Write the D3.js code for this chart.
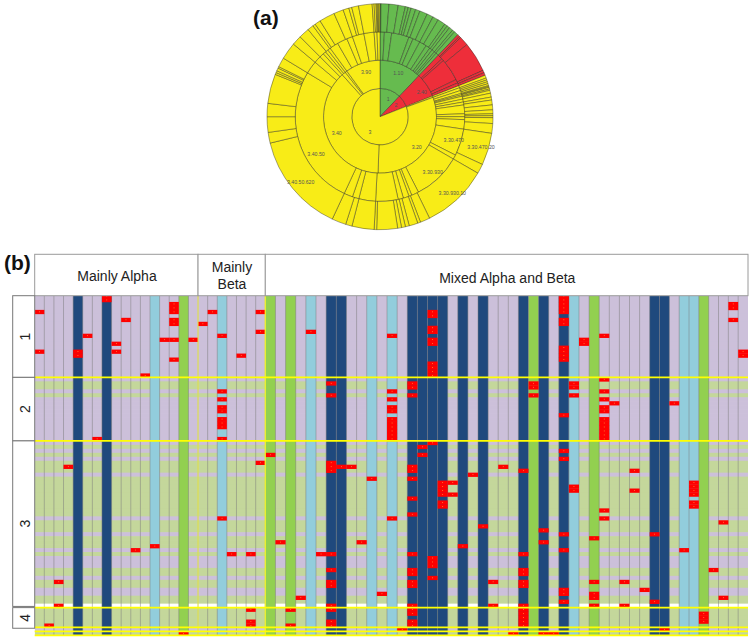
<!DOCTYPE html>
<html lang="en">

<head>
    <meta charset="UTF-8">
    <title>Domain map</title>
    <script src="https://d3js.org/d3.v7.min.js"></script>
    <style>
        html, body { margin: 0; padding: 0; background: #fff; }
        svg { display: block; }
        text { font-family: "Liberation Sans", Arial, sans-serif; }
    </style>
</head>

<body>
    <svg id="chart" width="751" height="639"></svg>

    <script>
        // (a) sunburst: top level classes, as [name, start angle, end angle] in degrees
        const classes = [["1", 0, 43.5], ["2", 43.5, 68.5], ["3", 68.5, 360]];

        // cut angles of each ring
        const ring1Cuts = [0, 43.5, 68.5, 360];
        const ring2Cuts = [0, 43.5, 68.5, 70, 182, 318, 322, 324, 360];
        const ring3Cuts = [0, 3, 8, 20, 23, 28, 33, 36, 38, 40, 41.5, 43.5, 47, 48.5, 64, 66.5, 68.5,
            70, 72, 74, 75, 76, 78, 80, 82, 88, 90, 92, 98.5, 117, 120, 153, 158, 160, 164, 167.6, 183,
            194.5, 199, 205, 301.2, 310, 315, 318, 320, 322, 324, 330, 337, 341, 349, 356, 358, 360];
        const ring4Cuts = [0, 0.5, 4.6, 9.3, 13, 14.5, 16, 18.4, 20.7, 24.7, 28, 31, 35, 36.5, 38, 40, 41.3, 43.5,
            44.7, 45.5, 50.3, 65.8, 67.1, 68.5,
            70, 71, 72, 73, 74, 74.5, 75, 75.8, 76.5, 78, 80, 81.5, 84, 86.5, 88.5, 89.5, 90.5, 93.5, 98.5,
            115, 120, 154, 159, 160.5, 165, 167, 169, 171, 181.7, 183, 194.4, 197.7, 205, 256.5, 262, 270,
            276.8, 292, 293, 294, 295.5, 296.3, 301.2, 310, 315, 320.5, 323.6, 325, 328, 336, 341, 344,
            345.5, 349, 356, 357, 358, 358.5, 359, 359.5, 360];
        const rings = [ring1Cuts, ring2Cuts, ring3Cuts, ring4Cuts];
        const ringLabels = [
            ["1", 388.3, 99.3], ["2", 396, 106], ["3", 370, 132.7], ["1.10", 398.3, 73.3],
            ["2.40", 421.7, 92.7], ["3.90", 366, 72.3], ["3.40", 336.7, 133.3], ["3.20", 416.7, 147.3],
            ["3.40.50", 316, 155], ["3.40.50.620", 300.7, 182.3], ["3.30.470", 453.7, 141],
            ["3.30.470.20", 481, 147.7], ["3.30.930", 432.7, 172.7], ["3.30.930.10", 452.3, 193.7]
        ];

        // (b) grid: column kinds, row shades and hit cells
        const columnKinds = ("LLLLDLLDLLLLCLLGLLLCLLLL" + "GLGLCLDDLLCLCL" + "DDDDLDLD" + "LLLDGDLDCLG" +
            "LLLLL" + "DD" + "L" + "CC" + "G" + "LLLL").split("");
        const rowShades = ("pppppppppppppppppppppp" + "gg" + "p" + "g" + "pppppppppppp" + "g" + "p" + "g" + "p" +
            "ggg" + "p" + "gggggggggg" + "p" + "ggg" + "p" + "ggg" + "p" + "g" + "ppp" + "gg" + "p" + "gg" +
            "pp" + "gg" + "w" + "ggggg" + "p" + "g").split("");
        const hits = [
            [0, [4, 14]], [1, [83]], [2, [72, 78]], [3, [43]], [4, [14, 15]], [5, [10]], [6, [36]], [7, [0, 1]],
            [8, [12, 14]], [9, [6]], [10, [64]], [11, [20]], [12, [63]], [13, [11]], [14, [2, 3, 4, 6, 7, 11, 16]],
            [15, [85]], [16, [11]], [17, [7]], [18, [4]], [19, [10, 24, 26, 28, 29, 31, 32, 33, 36, 56]], [20, [65]],
            [21, [15]], [22, [65, 79, 82, 83]], [23, [4, 9, 42]], [24, [40]], [25, [62]], [26, [79, 83]], [27, [76]],
            [28, [9]], [29, [65]], [30, [22, 25, 42, 43, 44, 65, 69, 72, 73, 78, 79, 82, 83]], [31, [43]], [32, [43]],
            [33, [62]], [34, [46]], [35, [75]], [36, [10, 24, 26, 28, 29, 31, 32, 33, 34, 35, 36, 56]], [37, [84]],
            [38, [22, 23, 25, 43, 44, 46, 51, 55, 65, 69, 70, 72, 73, 78, 79, 80, 82, 83]], [39, [38, 40]],
            [40, [4, 5, 8, 9, 11, 12, 17, 18, 19, 20, 37, 66, 67, 68, 71]], [41, [47, 48, 49, 50, 52, 53]], [42, [47, 50]],
            [43, [63]], [44, [45]], [45, [58]], [46, [72, 78]], [47, [43]], [48, [85]],
            [49, [44, 65, 69, 70, 72, 73, 78, 79, 80, 81, 82, 83]], [50, [22, 23, 25]], [51, [59, 62, 85]], [52, [85]],
            [53, [0, 1, 2, 3, 4, 6, 7, 13, 14, 15, 16, 30, 39, 41, 60, 64, 74, 75, 77]], [54, [22, 23, 25, 48, 49]],
            [55, [11, 12]], [56, [61, 72, 75, 76, 78]], [57, [10, 21, 24, 26, 28, 29, 31, 32, 33, 34, 35, 36, 54, 56]],
            [58, [27]], [59, [72, 78]], [60, [44, 49]], [61, [74]], [62, [60, 77]], [63, [84]], [64, [27]], [65, [64]],
            [66, [47, 48, 49, 50, 52, 53]], [67, [80, 81, 82]], [68, [69]], [69, [57, 76]], [70, [2, 3, 6]], [71, [14, 15]]
        ];
        const rowBreaks = [21, 37, 79, 84, 85, 86];
        const headers = [["Mainly Alpha", 0, 17], ["Mainly Beta", 17, 24], ["Mixed Alpha and Beta", 24, 72]];
        const groupLabels = [["1", 21, 0], ["2", 37, 21], ["3", 78.7, 37], ["4", 84.2, 79]];

        const kindColor = { D: "#1f497d", C: "#92cddc", G: "#92d050" };
        const shadeColor = { p: "#ccc0da", g: "#c4d79b", w: "#ffffff" };
        const classColor = { "1": "#66bb4f", "2": "#ee2e3a", "3": "#f8ec17" };

        const svg = d3.select("#chart");

        // ---- (a)
        const angle = d3.scaleLinear().domain([0, 360]).range([0, 2 * Math.PI]);
        const radius = d3.scaleLinear().domain([0, 4]).range([0, 113]);
        const arc = d3.arc();
        const sun = svg.append("g").attr("transform", "translate(380,116.7)");

        function classOf(a) {
            return classes.find(c => a >= c[1] && a < c[2])[0];
        }

        rings.forEach((cuts, ring) => {
            sun.selectAll(null)
                .data(d3.pairs(cuts))
                .enter()
                .append("path")
                .attr("d", d => arc({
                    innerRadius: radius(ring),
                    outerRadius: radius(ring + 1),
                    startAngle: angle(d[0]),
                    endAngle: angle(d[1])
                }))
                .attr("fill", d => classColor[classOf(d[0])])
                .attr("stroke", "#26261a")
                .attr("stroke-opacity", 0.9)
                .attr("stroke-width", 0.45);
        });

        svg.selectAll(null)
            .data(ringLabels)
            .enter()
            .append("text")
            .attr("x", d => d[1])
            .attr("y", d => d[2])
            .attr("text-anchor", "middle")
            .attr("dominant-baseline", "middle")
            .attr("font-size", 5.2)
            .attr("fill", "#555")
            .text(d => d[0]);

        svg.append("text").attr("x", 253).attr("y", 25).attr("font-size", 21)
            .attr("font-weight", "bold").attr("fill", "#111").text("(a)");
        svg.append("text").attr("x", 4).attr("y", 270).attr("font-size", 21)
            .attr("font-weight", "bold").attr("fill", "#111").text("(b)");

        // ---- (b)
        const x = d3.scaleLinear().domain([0, 24, 38, 62, 72]).range([34.7, 265.3, 407.3, 649.7, 748]);
        const y = d3.scaleLinear().domain([0, 86]).range([294, 635.4]);

        svg.append("clipPath").attr("id", "grid-clip").append("rect")
            .attr("x", x(0)).attr("y", 295.7).attr("width", x(72) - x(0)).attr("height", y(86) - 295.7);

        const grid = svg.append("g").attr("clip-path", "url(#grid-clip)");

        // row bands over the full width (overlap a little so no seams show), solid columns on top
        grid.selectAll(null)
            .data(rowShades)
            .enter()
            .append("rect")
            .attr("x", x(0))
            .attr("y", (d, r) => y(r))
            .attr("width", x(72) - x(0))
            .attr("height", y(1) - y(0) + 0.7)
            .attr("fill", d => shadeColor[d]);

        grid.selectAll(null)
            .data(columnKinds.map((kind, c) => [kind, c]).filter(d => d[0] !== "L"))
            .enter()
            .append("rect")
            .attr("x", d => x(d[1]))
            .attr("y", y(0))
            .attr("width", d => x(d[1] + 1) - x(d[1]))
            .attr("height", y(86) - y(0))
            .attr("fill", d => kindColor[d[0]]);

        grid.selectAll(null)
            .data(d3.range(1, 72))
            .enter()
            .append("line")
            .attr("x1", d => x(d))
            .attr("x2", d => x(d))
            .attr("y1", y(0))
            .attr("y2", y(86))
            .attr("stroke", "#7a7a7a")
            .attr("stroke-opacity", 0.55)
            .attr("stroke-width", 0.9);

        const cells = hits.flatMap(([c, rows]) => rows.map(r => [c, r]));

        grid.selectAll(null)
            .data(cells)
            .enter()
            .append("rect")
            .attr("x", d => x(d[0]))
            .attr("y", d => y(d[1]))
            .attr("width", d => x(d[0] + 1) - x(d[0]))
            .attr("height", y(1) - y(0) + 0.3)
            .attr("fill", "#ff0000");

        grid.selectAll(null)
            .data(cells)
            .enter()
            .append("rect")
            .attr("x", d => (x(d[0]) + x(d[0] + 1)) / 2 - 0.4)
            .attr("y", d => y(d[1] + 0.5) - 0.4)
            .attr("width", 0.8)
            .attr("height", 0.8)
            .attr("fill", "#ffa040");

        // vertical group lines
        grid.append("line").attr("x1", x(17)).attr("x2", x(17)).attr("y1", y(0)).attr("y2", y(86))
            .attr("stroke", "#ffff40").attr("stroke-opacity", 0.55).attr("stroke-width", 1.6);
        grid.append("line").attr("x1", x(24)).attr("x2", x(24)).attr("y1", y(0)).attr("y2", y(86))
            .attr("stroke", "#ffff20").attr("stroke-opacity", 0.8).attr("stroke-width", 1.4);

        svg.selectAll(null)
            .data(rowBreaks)
            .enter()
            .append("line")
            .attr("x1", x(0))
            .attr("x2", x(72))
            .attr("y1", d => y(d))
            .attr("y2", d => y(d))
            .attr("stroke", "#ffff00")
            .attr("stroke-width", 1.7);

        // header boxes
        const headTop = 254.3, headBottom = 295.7;
        svg.selectAll(null)
            .data(headers)
            .enter()
            .append("rect")
            .attr("x", d => x(d[1]))
            .attr("y", headTop)
            .attr("width", d => x(d[2]) - x(d[1]))
            .attr("height", headBottom - headTop)
            .attr("fill", "#fff")
            .attr("stroke", "#9a9a9a")
            .attr("stroke-width", 1);

        const headText = svg.append("g").attr("font-size", 14).attr("fill", "#222").attr("text-anchor", "middle");
        headText.append("text").attr("x", 117).attr("y", 281).text(headers[0][0]);
        headText.append("text").attr("x", 232).attr("y", 271.7).text(headers[1][0].split(" ")[0]);
        headText.append("text").attr("x", 232).attr("y", 289).text(headers[1][0].split(" ")[1]);
        headText.append("text").attr("x", 507.3).attr("y", 283).text(headers[2][0]);

        // group boxes on the left
        groupLabels.forEach(([label, end, start]) => {
            const top = start === 0 ? headBottom : y(start);
            const bottom = y(end);
            svg.append("rect")
                .attr("x", 12.7)
                .attr("y", top)
                .attr("width", 22)
                .attr("height", bottom - top)
                .attr("fill", "#fff")
                .attr("stroke", "#777")
                .attr("stroke-width", 1);
            svg.append("text")
                .attr("transform", `translate(29.5,${(top + bottom) / 2}) rotate(-90)`)
                .attr("text-anchor", "middle")
                .attr("font-size", 14)
                .attr("fill", "#222")
                .text(label);
        });
    </script>
</body>

</html>
